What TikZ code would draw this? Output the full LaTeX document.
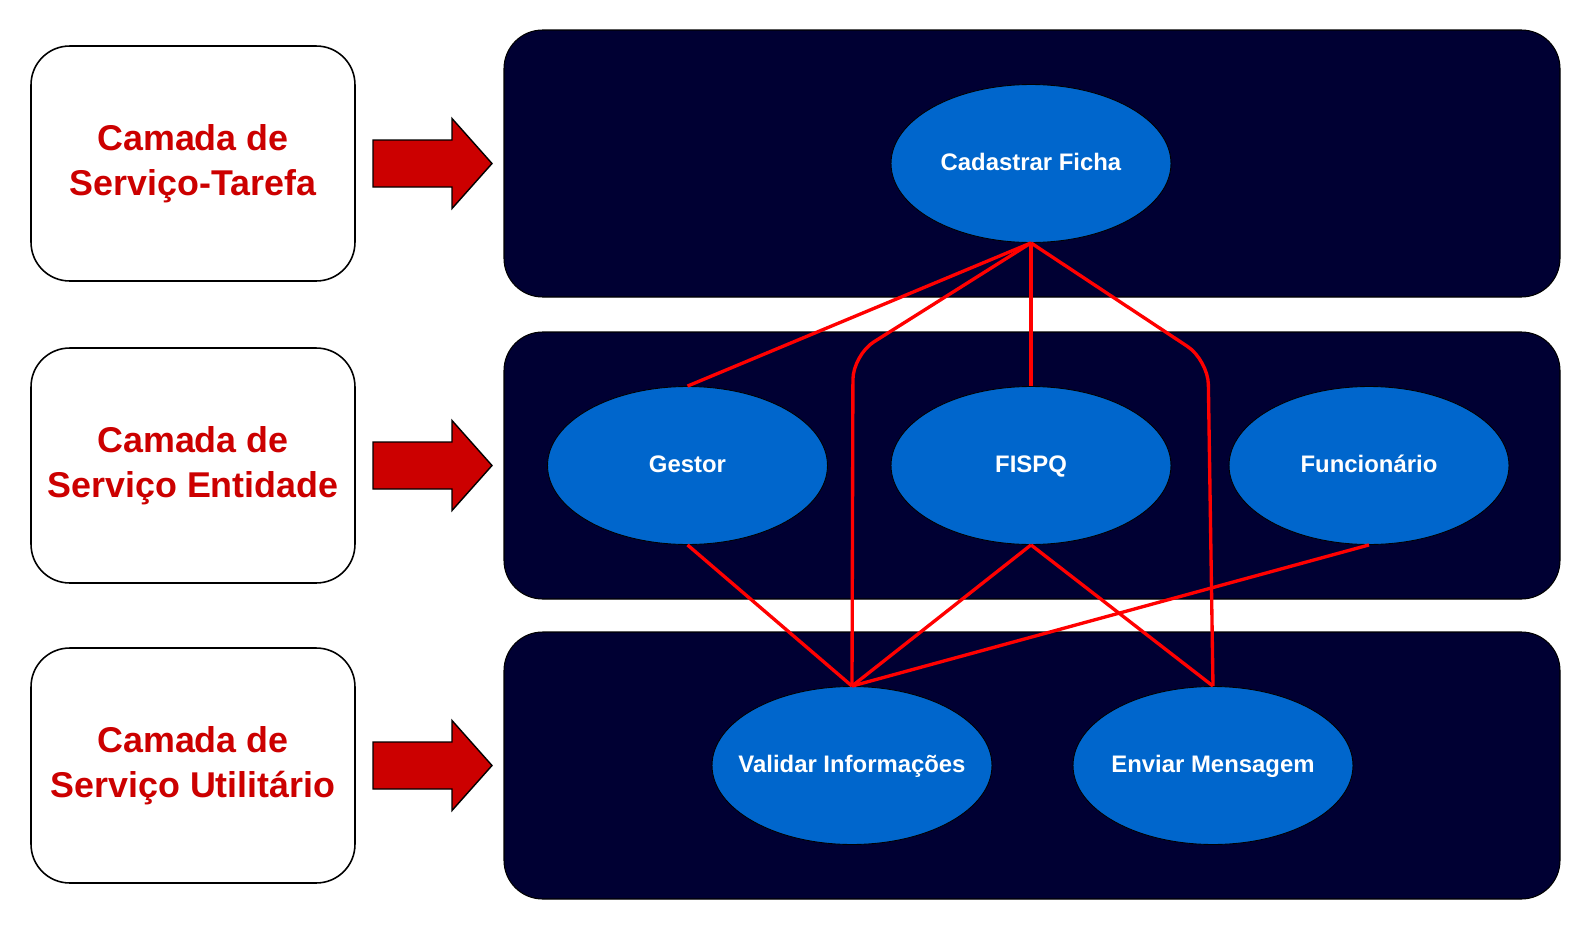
\documentclass[tikz,border=0pt]{standalone}
\usepackage{fontspec}
\setmainfont{Liberation Sans}
\usetikzlibrary{shapes.geometric}
\definecolor{panelc}{HTML}{000033}
\definecolor{ovalc}{HTML}{0066CC}
\definecolor{redc}{HTML}{CC0000}
\definecolor{linkc}{HTML}{FF0000}
\newcommand{\ovtext}[1]{\makebox[0pt]{#1}}
\tikzset{
  layer/.style={draw=black,line width=0.9pt,rounded corners=22pt,fill=white,align=center,
    minimum width=6.48cm,minimum height=4.7cm,text=redc,font=\fontsize{20.4}{25.8}\selectfont\bfseries},
  svc/.style={ellipse,draw=black,line width=0.5pt,fill=ovalc,inner sep=0pt,
    text height=1.05em,text depth=0.2em,
    minimum width=5.6cm,minimum height=3.16cm,text=white,font=\fontsize{13.6}{16}\selectfont\bfseries},
  band/.style={fill=panelc,draw=black,line width=0.6pt,rounded corners=22pt},
  bigar/.style={fill=redc,draw=black,line width=0.8pt},
  lk/.style={linkc,line width=1.9pt}
}
\begin{document}
\begin{tikzpicture}[x=0.02cm,y=-0.02cm]
\useasboundingbox (0,0) rectangle (1590,930);
% dark bands
\foreach \t/\b in {30/297,332/599,632/899}{\draw[band] (504,\t) rectangle (1560,\b);}
% layer labels
\node[layer] (lt) at (193,163.5) {Camada de\\Serviço-Tarefa};
\node[layer] (le) at (193,465.5) {Camada de\\Serviço Entidade};
\node[layer] (lu) at (193,765.5) {Camada de\\Serviço Utilitário};
% block arrows
\foreach \c in {163.5,465.5,765.5}{
  \draw[bigar] (373,\c-23.5) -- (452,\c-23.5) -- (452,\c-45) -- (492,\c)
    -- (452,\c+45) -- (452,\c+23.5) -- (373,\c+23.5) -- cycle;}
% services
\node[svc] (cf) at (1031,163.5) {\ovtext{Cadastrar Ficha}};
\node[svc] (ge) at (687.5,465.5) {\ovtext{Gestor}};
\node[svc] (fi) at (1031,465.5) {\ovtext{FISPQ}};
\node[svc] (fu) at (1369,465.5) {\ovtext{Funcionário}};
\node[svc] (vi) at (852,765.5) {\ovtext{Validar Informações}};
\node[svc] (em) at (1213,765.5) {\ovtext{Enviar Mensagem}};
\coordinate (bl) at (853,355);
\coordinate (br) at (1208,360);
% links
\draw[lk] (cf.south) -- (ge.north);
\draw[lk] (cf.south) -- (fi.north);
\draw[lk,rounded corners=14pt] (cf.south) -- (bl) -- (vi.north);
\draw[lk,rounded corners=14pt] (cf.south) -- (br) -- (em.north);
\draw[lk] (ge.south) -- (vi.north);
\draw[lk] (fi.south) -- (vi.north);
\draw[lk] (fu.south) -- (vi.north);
\draw[lk] (fi.south) -- (em.north);
\end{tikzpicture}
\end{document}
